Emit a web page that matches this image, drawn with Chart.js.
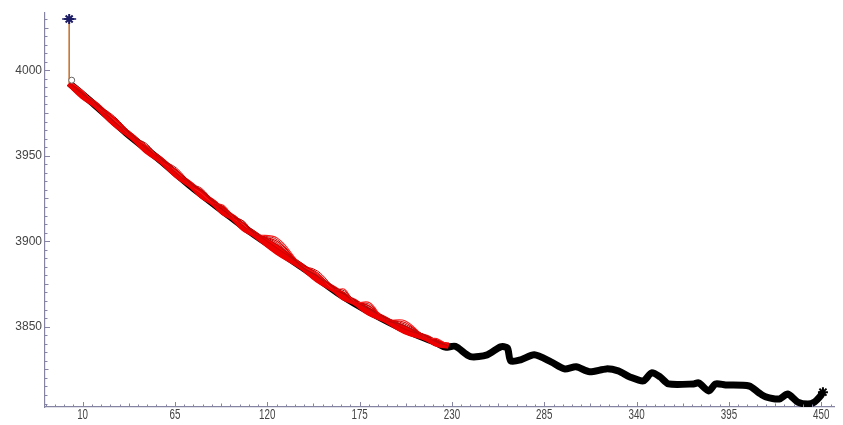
<!DOCTYPE html>
<html>
<head>
<meta charset="utf-8">
<script src="https://cdn.jsdelivr.net/npm/chart.js@4/dist/chart.umd.min.js"></script>
<style>
  html, body { margin: 0; padding: 0; background: #ffffff; }
  #wrap { width: 843px; height: 425px; }
</style>
</head>
<body>
<div id="wrap"><canvas id="c" width="843" height="425"></canvas></div>
<script>
// Observed series (black): step index vs. measured level
const obsX = [2, 16, 36, 56, 75, 95, 109, 123, 143, 162, 182, 202, 221, 226, 232, 241, 251, 259, 263, 265, 271, 279, 289, 297, 304, 312, 322, 329, 336, 344, 349, 354, 359, 374, 377, 383, 387, 393, 407, 413, 417, 425, 430, 436, 442, 446, 449, 451];
const obsY = [3992.5, 3980.8, 3963.3, 3947.5, 3931.7, 3916.5, 3906.0, 3896.6, 3883.2, 3869.7, 3858.0, 3848.0, 3840.4, 3838.0, 3838.5, 3832.5, 3833.5, 3838.2, 3837.6, 3830.0, 3830.6, 3833.5, 3829.4, 3825.3, 3826.5, 3823.6, 3825.3, 3824.1, 3820.6, 3818.3, 3823.0, 3820.6, 3816.5, 3816.5, 3817.1, 3812.4, 3816.5, 3815.9, 3815.3, 3811.2, 3808.9, 3807.7, 3810.6, 3805.9, 3804.7, 3805.9, 3808.8, 3811.7];

// Fitted runs (red), all sampled on the same x nodes
const fitX = [2, 10, 18, 29, 40, 48, 57, 66, 75, 81, 88, 94, 100, 106, 112, 126, 140, 150, 160, 166, 172, 181, 190, 202, 215, 221, 228];
const fit1 = [3992.5, 3987, 3979.5, 3971.9, 3960.6, 3955.1, 3947, 3941.7, 3932.4, 3928.8, 3922.4, 3918.9, 3913.5, 3910.6, 3904.3, 3899.8, 3886.5, 3881.5, 3871.7, 3869.9, 3864.4, 3862, 3854.3, 3852.5, 3843.3, 3842, 3838.9];
const fit2 = [3992.5, 3986, 3980.5, 3969.9, 3961.6, 3954.1, 3948, 3939.7, 3933.4, 3930.8, 3923.4, 3919.9, 3914.5, 3908.6, 3905.3, 3897.8, 3885.5, 3879.5, 3872.7, 3870.9, 3865.4, 3860, 3855.3, 3850.5, 3844.3, 3841, 3838.9];
const fit3 = [3993.5, 3988, 3979.5, 3970.9, 3960.6, 3956.1, 3947, 3940.7, 3932.4, 3927.8, 3922.4, 3920.9, 3913.5, 3909.6, 3904.3, 3901.8, 3886.5, 3880.5, 3871.7, 3871.9, 3864.4, 3864, 3854.3, 3853.5, 3843.3, 3843, 3838.9];
const fit4 = [3992.5, 3985, 3979.5, 3968.9, 3960.6, 3953.1, 3947, 3938.7, 3932.4, 3926.8, 3922.4, 3916.9, 3913.5, 3907.6, 3904.3, 3893.8, 3885.5, 3877.5, 3871.7, 3866.9, 3864.4, 3858, 3854.3, 3847.5, 3843.3, 3840, 3838.9];
const fit5 = [3993.5, 3987, 3980.5, 3972.9, 3961.6, 3956.1, 3948, 3942.7, 3933.4, 3929.8, 3923.4, 3917.9, 3914.5, 3911.6, 3905.3, 3898.8, 3886.5, 3882.5, 3872.7, 3868.9, 3865.4, 3861, 3855.3, 3851.5, 3844.3, 3842, 3838.9];
const fit6 = [3992.5, 3986, 3979.5, 3970.9, 3960.6, 3954.1, 3947, 3939.7, 3932.4, 3928.8, 3922.4, 3918.9, 3913.5, 3908.6, 3904.3, 3896.8, 3885.5, 3878.5, 3871.7, 3867.9, 3864.4, 3859, 3854.3, 3849.5, 3843.3, 3841, 3838.9];
const fit7 = [3993.5, 3986, 3980.5, 3969.9, 3961.6, 3955.1, 3948, 3940.7, 3933.4, 3927.8, 3923.4, 3919.9, 3914.5, 3909.6, 3905.3, 3895.8, 3886.5, 3880.5, 3872.7, 3869.9, 3865.4, 3862, 3855.3, 3848.5, 3844.3, 3841, 3838.9];
const fit8 = [3992.5, 3987, 3979.5, 3969.9, 3960.6, 3957.1, 3947, 3941.7, 3932.4, 3929.8, 3922.4, 3917.9, 3913.5, 3911.6, 3904.3, 3900.8, 3885.5, 3879.5, 3871.7, 3868.9, 3864.4, 3863, 3854.3, 3850.5, 3843.3, 3842, 3838.9];

// Initial jump (orange) and its end markers
const jumpX = [2, 2];
const jumpY = [3992.5, 4030];
const startMarkX = [3.5];
const startMarkY = [3994.2];

// Axis tick labels
const xTickLabels = [10, 65, 120, 175, 230, 285, 340, 395, 450];
const yTickLabels = [3850, 3900, 3950, 4000];

const AXIS_COLOR = '#8585a3';
const LABEL_COLOR = '#444444';

const pts = (xs, ys) => xs.map((x, i) => ({ x: x, y: ys[i] }));

const fits = [fit1, fit2, fit3, fit4, fit5, fit6, fit7, fit8];
const fitStyles = [
  { c: '#e00000', w: 1.1 }, { c: '#b01010', w: 1.0 }, { c: '#ff1a1a', w: 1.1 }, { c: '#ee0000', w: 6.5 },
  { c: '#c00000', w: 1.0 }, { c: '#ff0000', w: 4.5 }, { c: '#d00000', w: 1.1 }, { c: '#a81010', w: 1.0 }
];

const datasets = [];
datasets.push({
  label: 'observed',
  data: pts(obsX, obsY),
  borderColor: '#000000',
  backgroundColor: '#000000',
  borderWidth: 7,
  borderJoinStyle: 'round',
  tension: 0.25,
  showLine: true,
  pointStyle: 'star',
  pointRadius: (ctx) => (ctx.dataIndex === obsX.length - 1 ? 5 : 0),
  pointBorderWidth: 2,
  order: 20
});
fits.forEach((f, i) => {
  datasets.push({
    label: 'fit ' + (i + 1),
    data: pts(fitX, f),
    borderColor: fitStyles[i].c,
    borderWidth: fitStyles[i].w,
    tension: 0.4,
    showLine: true,
    pointRadius: 0,
    order: 10 + (i === 3 || i === 5 ? 1 : 0)
  });
});
datasets.push({
  label: 'jump',
  data: pts(jumpX, jumpY),
  borderColor: '#c87533',
  borderWidth: 1.6,
  showLine: true,
  pointRadius: 0,
  order: 5
});
datasets.push({
  label: 'top marker',
  data: [{ x: jumpX[1], y: jumpY[1] }, { x: jumpX[1], y: jumpY[1] }],
  showLine: false,
  pointStyle: ['star', 'line'],
  pointRadius: [5, 7],
  borderColor: '#1c1c66',
  backgroundColor: '#1c1c66',
  pointBorderWidth: [2, 1.3],
  order: 2
});
datasets.push({
  label: 'start marker',
  data: pts(startMarkX, startMarkY),
  showLine: false,
  pointStyle: 'circle',
  pointRadius: 3,
  borderColor: '#666666',
  backgroundColor: '#ffffff',
  pointBorderWidth: 1,
  order: 1
});

// Tick marks drawn inward from the axes, plus narrow x-axis labels
const inwardTicks = {
  id: 'inwardTicks',
  afterDatasetsDraw(chart) {
    const { ctx, chartArea: a, scales: { x, y } } = chart;
    ctx.save();
    ctx.strokeStyle = AXIS_COLOR;
    ctx.lineWidth = 1;
    ctx.beginPath();
    for (let i = -4; i <= 82; i++) {
      const v = 10 + 5.5 * i;
      if (v < x.min || v > x.max) continue;
      const len = i % 10 === 0 ? 5 : (i % 5 === 0 ? 3.5 : 2.5);
      const px = Math.round(x.getPixelForValue(v)) + 0.5;
      ctx.moveTo(px, a.bottom);
      ctx.lineTo(px, a.bottom - len);
    }
    for (let v = 3805; v <= 4030; v += 5) {
      if (v < y.min || v > y.max) continue;
      const len = v % 50 === 0 ? 5 : (v % 25 === 0 ? 3.5 : 2.5);
      const py = Math.round(y.getPixelForValue(v)) + 0.5;
      ctx.moveTo(a.left, py);
      ctx.lineTo(a.left + len, py);
    }
    ctx.stroke();

    // x labels: tall, horizontally condensed digits
    ctx.fillStyle = LABEL_COLOR;
    ctx.font = "14px 'Liberation Sans', Arial, sans-serif";
    ctx.textAlign = 'center';
    ctx.textBaseline = 'middle';
    xTickLabels.forEach(v => {
      const px = x.getPixelForValue(v);
      ctx.save();
      ctx.translate(px, a.bottom + 8);
      ctx.scale(0.7, 1);
      ctx.fillText(String(v), 0, 0);
      ctx.restore();
    });
    ctx.restore();
  }
};

new Chart(document.getElementById('c'), {
  type: 'scatter',
  data: { datasets: datasets },
  options: {
    responsive: false,
    animation: false,
    devicePixelRatio: 1,
    layout: { padding: { top: 13, right: 3, left: 0, bottom: 0 } },
    plugins: { legend: { display: false }, tooltip: { enabled: false } },
    scales: {
      x: {
        type: 'linear',
        min: -12.4,
        max: 458,
        grid: { display: false, drawTicks: false },
        border: { display: true, color: AXIS_COLOR, width: 1.2 },
        afterBuildTicks: (s) => { s.ticks = xTickLabels.map(v => ({ value: v })); },
        afterFit: (s) => { s.height = 18; },
        ticks: { display: false }
      },
      y: {
        type: 'linear',
        min: 3803,
        max: 4033.5,
        grid: { display: false, drawTicks: false },
        border: { display: true, color: AXIS_COLOR, width: 1.2 },
        afterBuildTicks: (s) => { s.ticks = yTickLabels.map(v => ({ value: v })); },
        afterFit: (s) => { s.width = 45; },
        ticks: {
          padding: 3,
          autoSkip: false,
          color: LABEL_COLOR,
          callback: (v) => String(v),
          font: { family: "'Liberation Sans', Arial, sans-serif", size: 12 }
        }
      }
    }
  },
  plugins: [inwardTicks]
});
</script>
</body>
</html>
